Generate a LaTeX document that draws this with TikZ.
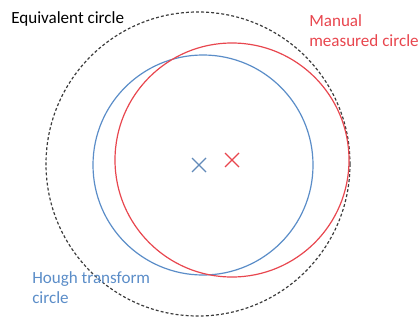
\documentclass[tikz,border=0pt]{standalone}
\usepackage{fontspec}
\setmainfont{Carlito}
\definecolor{hughblue}{RGB}{91,141,200}
\definecolor{manred}{RGB}{232,70,78}
\definecolor{eqgray}{RGB}{60,60,60}
\tikzset{
  lbl/.style={inner sep=0pt, align=left, font=\fontsize{12.8}{15}\selectfont},
  ring/.style={line width=0.9pt},
}
\begin{document}
\begin{tikzpicture}[x=0.75pt,y=-0.75pt]
\useasboundingbox (0,0) rectangle (420,321);
% circles
\draw[eqgray, line width=0.9pt, dash pattern=on 2.2pt off 1.6pt] (198,164) circle (152);
\draw[ring, hughblue] (203,165) circle (110);
\draw[ring, manred] (232,160) circle (117);

% centres
\draw[ring, hughblue!80!gray] (192,158) -- (206,172) (192,172) -- (206,158);
\draw[ring, manred] (225,153) -- (239,167) (225,167) -- (239,153);

% labels
\node[lbl, anchor=north west, text=black] (eqv) at (11,11) {Equivalent circle};
\node[lbl, anchor=north west, text=manred] (man) at (309,14) {Manual\\measured circle};
\node[lbl, anchor=north west, text=hughblue] (hgh) at (32,271) {Hough transform\\circle};
\end{tikzpicture}
\end{document}
